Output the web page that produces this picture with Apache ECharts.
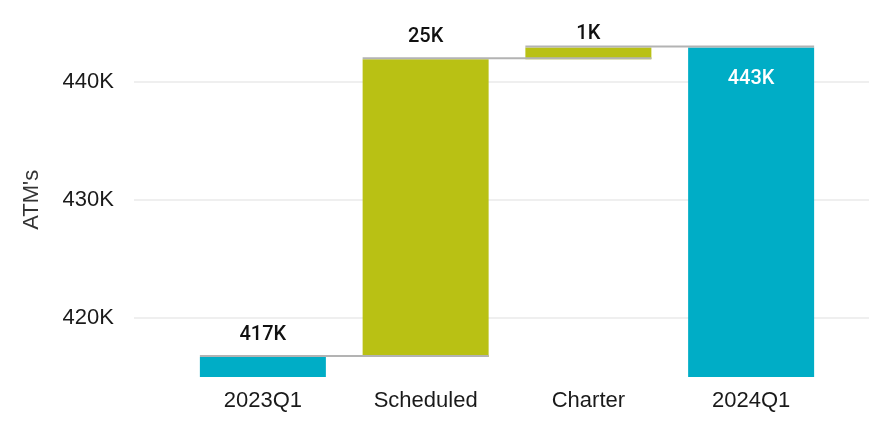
<!DOCTYPE html>
<html><head><meta charset="utf-8">
<script src="https://cdn.jsdelivr.net/npm/echarts@6/dist/echarts.min.js"></script>
<style>html,body{margin:0;padding:0;background:#fff}#c{width:869px;height:423px}</style>
</head><body><div id="c"></div>
<script>
const categories = ['2023Q1', 'Scheduled', 'Charter', '2024Q1'];
const totals = [416700, null, null, 442900];
const increases = [null, 25200, 1000, null];
const gridValues = [420000, 430000, 440000];
const yMin = 415000, yMax = 445000;

const TEAL = '#00ADC6', OLIVE = '#B9C114';
const BAR_W = 126;

// derived: stacked bases and running tops
const bases = [], tops = [];
let run = 0;
categories.forEach((c, i) => {
  if (totals[i] != null) { bases.push(0); run = totals[i]; }
  else { bases.push(run); run += increases[i]; }
  tops.push(run);
});
const fmtK = v => Math.round(v / 1000) + 'K';

const chart = echarts.init(document.getElementById('c'));
chart.setOption({
  animation: false,
  grid: [
    { left: 134, right: 0, top: 22.6, bottom: 46 },
    { left: 181.5, right: 36.5, top: 22.6, bottom: 46 }
  ],
  xAxis: [
    { type: 'value', gridIndex: 0, min: 0, max: 1, show: false },
    { type: 'category', gridIndex: 1, data: categories,
      axisLine: { show: false }, axisTick: { show: false },
      axisLabel: { fontFamily: 'Liberation Sans, Arial', fontSize: 22, color: '#1a1a1a', margin: 13 } }
  ],
  yAxis: [
    { type: 'value', gridIndex: 0, min: yMin, max: yMax, interval: 5000,
      axisLine: { show: false }, axisTick: { show: false }, splitLine: { show: false },
      axisLabel: { fontFamily: 'Liberation Sans, Arial', fontSize: 22, color: '#1a1a1a', margin: 20,
        formatter: v => (v % 10000 === 0 ? fmtK(v) : '') },
      name: "ATM's", nameLocation: 'middle', nameGap: 91,
      nameTextStyle: { fontFamily: 'Liberation Sans, Arial', fontSize: 22, color: '#333' } },
    { type: 'value', gridIndex: 1, min: yMin, max: yMax, show: false, splitLine: { show: false } }
  ],
  series: [
    { type: 'line', xAxisIndex: 0, yAxisIndex: 0, data: [], z: 0, zlevel: 0, silent: true,
      markLine: { symbol: 'none', silent: true, z: 0, label: { show: false },
        lineStyle: { color: '#EFEFEF', width: 2, type: 'solid' },
        data: gridValues.map(v => ({ yAxis: v })) } },
    { type: 'bar', name: 'base', xAxisIndex: 1, yAxisIndex: 1, stack: 'wf', barWidth: BAR_W, z: 2,
      itemStyle: { color: 'transparent' }, data: bases },
    { type: 'bar', name: 'total', xAxisIndex: 1, yAxisIndex: 1, stack: 'wf', barWidth: BAR_W, z: 2,
      itemStyle: { color: TEAL },
      data: totals.map((v, i) => {
        if (v == null) return '-';
        const last = i === totals.length - 1;
        return { value: v, label: last
          ? { show: true, position: 'insideTop', distance: 22, color: '#fff' }
          : { show: true, position: 'top', distance: 12, color: '#111' } };
      }),
      label: { fontFamily: 'Roboto', fontSize: 20, fontWeight: 500, formatter: p => fmtK(p.value) } },
    { type: 'bar', name: 'increase', xAxisIndex: 1, yAxisIndex: 1, stack: 'wf', barWidth: BAR_W, z: 2,
      itemStyle: { color: OLIVE },
      data: increases.map((v, i) => {
        if (v == null) return '-';
        return { value: v, label: { show: true, position: 'top', distance: v < 5000 ? 3 : 12, color: '#111' } };
      }),
      label: { fontFamily: 'Roboto', fontSize: 20, fontWeight: 500, formatter: p => fmtK(p.value) } },
    { type: 'custom', xAxisIndex: 1, yAxisIndex: 1, z: 3, silent: true,
      data: tops.slice(0, -1).map((t, i) => [i, t]),
      renderItem: (params, api) => {
        const i = api.value(0), t = api.value(1);
        const a = api.coord([i, t]), b = api.coord([i + 1, t]);
        return { type: 'line',
          shape: { x1: a[0] - BAR_W / 2, y1: a[1] - 1, x2: b[0] + BAR_W / 2, y2: a[1] - 1 },
          style: { stroke: '#B3B3B3', lineWidth: 2 } };
      } }
  ]
});
</script></body></html>
